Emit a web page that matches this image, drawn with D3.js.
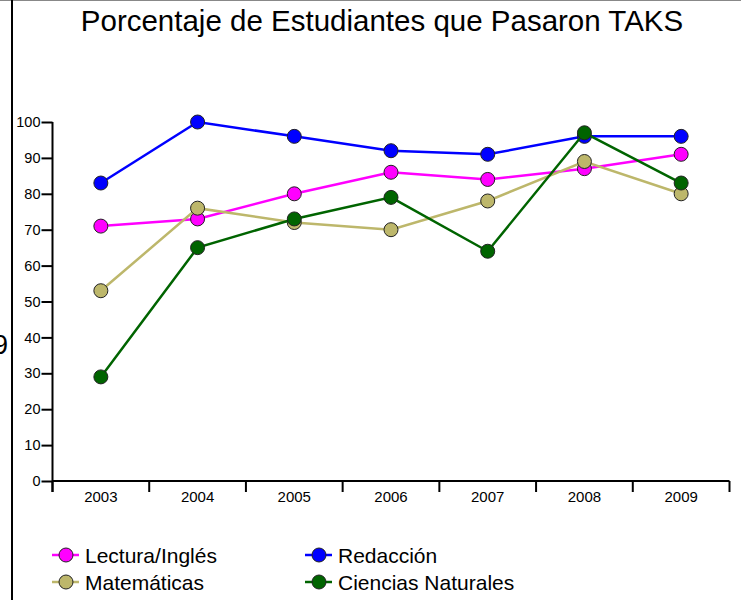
<!DOCTYPE html>
<meta charset="utf-8">
<script src="https://cdn.jsdelivr.net/npm/d3@7"></script>
<style>
body { margin: 0; background: #fff; }
text { font-family: "Liberation Sans", Arial, sans-serif; fill: #000; }
.axis path, .axis line { stroke: #000; stroke-width: 2px; }
</style>
<body>
<script>

var years = ["2003", "2004", "2005", "2006", "2007", "2008", "2009"];
var seriesNames = ["Lectura/Inglés", "Redacción", "Matemáticas", "Ciencias Naturales"];
var seriesColors = ["#ff00ff", "#0000ff", "#bdb76b", "#006400"];
var lectura = [71, 73, 80, 86, 84, 87, 91];
var redaccion = [83, 100, 96, 92, 91, 96, 96];
var matematicas = [53, 76, 72, 70, 78, 89, 80];
var ciencias = [29, 65, 73, 79, 64, 97, 83];
var yTicks = [0, 10, 20, 30, 40, 50, 60, 70, 80, 90, 100];

var seriesValues = [lectura, redaccion, matematicas, ciencias];

var width = 741,
    height = 600;

var svg = d3.select("body").append("svg")
    .attr("width", width)
    .attr("height", height);

// frame bits at the edge
svg.append("line")
    .attr("x1", 0).attr("x2", width).attr("y1", 0.5).attr("y2", 0.5)
    .attr("stroke", "#888").attr("stroke-width", 1);
svg.append("line")
    .attr("x1", 12).attr("x2", 12).attr("y1", 0).attr("y2", height)
    .attr("stroke", "#000").attr("stroke-width", 2);
svg.append("text")
    .attr("x", -7).attr("y", 354)
    .style("font-size", "27px")
    .text("9");

svg.append("text")
    .attr("x", 382).attr("y", 31)
    .attr("text-anchor", "middle")
    .style("font-size", "29.5px")
    .text("Porcentaje de Estudiantes que Pasaron TAKS");

var x = d3.scaleBand().domain(years).range([52.5, 729.5]);
var y = d3.scaleLinear().domain([0, 100]).range([481, 122]);

// y axis
var yAxis = svg.append("g")
    .attr("class", "axis")
    .attr("transform", "translate(52.5,0)")
    .call(d3.axisLeft(y).tickValues(yTicks).tickSize(11).tickSizeOuter(0).tickPadding(1));
yAxis.select(".domain").attr("d", "M0," + y(100) + "V" + (y(0) + 11));
yAxis.selectAll("text").style("font-size", "14.5px");

// x axis
var xAxis = svg.append("g")
    .attr("class", "axis")
    .attr("transform", "translate(0,481)");
xAxis.append("line")
    .attr("x1", 52.5).attr("x2", 729.5)
    .attr("y1", 0).attr("y2", 0);
var edges = years.map(function(d) { return x(d); }).concat([x(years[6]) + x.bandwidth()]);
xAxis.selectAll(".tk")
    .data(edges)
    .enter().append("line")
    .attr("class", "tk")
    .attr("x1", function(d) { return d; }).attr("x2", function(d) { return d; })
    .attr("y1", 0).attr("y2", 11);
xAxis.selectAll(".lbl")
    .data(years)
    .enter().append("text")
    .attr("class", "lbl")
    .attr("x", function(d) { return x(d) + x.bandwidth() / 2; })
    .attr("y", 21)
    .attr("text-anchor", "middle")
    .style("font-size", "15px")
    .text(function(d) { return d; });

var line = d3.line()
    .x(function(d, i) { return x(years[i]) + x.bandwidth() / 2; })
    .y(function(d) { return y(d); });

seriesValues.forEach(function(vals, s) {
  var g = svg.append("g");
  g.append("path")
      .datum(vals)
      .attr("d", line)
      .attr("fill", "none")
      .attr("stroke", seriesColors[s])
      .attr("stroke-width", 2.5);
  g.selectAll("circle")
      .data(vals)
      .enter().append("circle")
      .attr("cx", function(d, i) { return x(years[i]) + x.bandwidth() / 2; })
      .attr("cy", function(d) { return y(d); })
      .attr("r", 7)
      .attr("fill", seriesColors[s])
      .attr("stroke", "#222")
      .attr("stroke-width", 1);
});

// legend
var legendPos = [[52, 555], [305, 555], [52, 582], [305, 582]];
seriesNames.forEach(function(name, s) {
  var p = legendPos[s];
  var lg = svg.append("g").attr("transform", "translate(" + p[0] + "," + p[1] + ")");
  lg.append("line")
      .attr("x1", 0).attr("x2", 27).attr("y1", 0).attr("y2", 0)
      .attr("stroke", seriesColors[s]).attr("stroke-width", 2.5);
  lg.append("circle")
      .attr("cx", 14).attr("cy", 0).attr("r", 7)
      .attr("fill", seriesColors[s])
      .attr("stroke", "#222").attr("stroke-width", 1);
  lg.append("text")
      .attr("x", 33).attr("y", 7.5)
      .style("font-size", "21px")
      .text(name);
});

</script>
</body>
